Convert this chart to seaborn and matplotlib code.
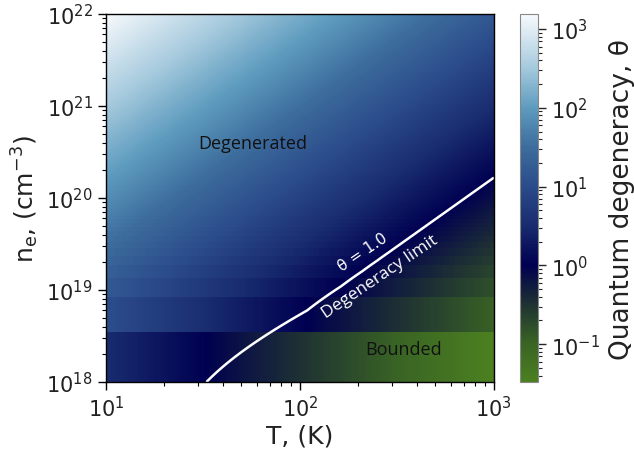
import numpy as np
import matplotlib
matplotlib.use("Agg")
import matplotlib.pyplot as plt
from matplotlib.colors import LogNorm
import seaborn as sns

# ---- data ----
T_range = [10.0, 1000.0]          # K
n_range = [1e18, 1e22]            # cm^-3
n_step = 5e18                     # linear density grid step (visible banding)
T_F_ref = 33.0                    # Fermi temperature (K) at n_ref, from theta=1 line
n_ref = 1e18
theta_level = [1.0]
# colormap anchors: log10(theta) -> colour
cmap_pos = [-1.48, -1.0, -0.5, 0.0, 0.5, 1.0, 1.5, 2.0, 2.5, 3.19]
cmap_col = ["#4b8020", "#3a6424", "#1f3232", "#000050", "#182b6e",
            "#2b4b8b", "#3c6c9c", "#5d9bbe", "#a3c8dc", "#f7fafc"]
region_labels = ["Degenerated", "Bounded"]
region_T = [57, 344]
region_n = [4.0e20, 2.3e18]

sns.set_style("ticks")
plt.rcParams["font.family"] = ["DejaVu Sans"]
plt.rcParams["xtick.direction"] = "out"
plt.rcParams["ytick.direction"] = "out"

T = np.geomspace(T_range[0], T_range[1], 400)
n = np.arange(n_range[0], n_range[1] + n_step / 2, n_step)
TT, NN = np.meshgrid(T, n)
theta = T_F_ref * (NN / n_ref) ** (2.0 / 3.0) / TT

from matplotlib.colors import LinearSegmentedColormap
pos = [(p - cmap_pos[0]) / (cmap_pos[-1] - cmap_pos[0]) for p in cmap_pos]
cmap = LinearSegmentedColormap.from_list("deg", list(zip(pos, cmap_col)))

fig = plt.figure(figsize=(6.34, 4.56), dpi=100)
ax = fig.add_axes([0.167, 0.160, 0.612, 0.807])
cax = fig.add_axes([0.820, 0.160, 0.029, 0.807])

mesh = ax.pcolormesh(T, n, theta, cmap=cmap, shading="nearest",
                     norm=LogNorm(vmin=10 ** cmap_pos[0], vmax=10 ** cmap_pos[-1]),
                     rasterized=True)
ax.contour(T, n, theta, levels=theta_level, colors="white", linewidths=1.8)
ax.set_xscale("log")
ax.set_yscale("log")
ax.set_xlim(T_range)
ax.set_ylim(n_range)
for s in ax.spines.values():
    s.set_color("black")
    s.set_linewidth(1.0)
ax.tick_params(which="major", length=6, width=1, labelsize=15, color="black",
               labelcolor="#222222")
ax.tick_params(which="minor", length=3, width=0.8, color="black")
ax.set_xlabel("T, (K)", fontsize=18, color="#222222", labelpad=2)
ax.set_ylabel(r"n$_{\rm e}$, (cm$^{-3}$)", fontsize=18, color="#222222", labelpad=4)

cb = fig.colorbar(mesh, cax=cax)
cb.outline.set_edgecolor("#888888")
cb.ax.tick_params(which="major", length=6, width=1, labelsize=15, labelcolor="#222222")
cb.ax.tick_params(which="minor", length=3, width=0.8)
cb.set_label("Quantum degeneracy, θ", fontsize=19, color="#222222", labelpad=6)

for lab, tx, ny in zip(region_labels, region_T, region_n):
    ax.text(tx, ny, lab, fontsize=13, family="Open Sans", color="#111111",
            ha="center", va="center")
ax.text(258, 1.42e19, "Degeneracy limit", fontsize=12.5, family="Open Sans",
        color="white", rotation=34, ha="center", va="center")
ax.text(211, 2.6e19, "θ = 1.0", fontsize=11, color="white",
        rotation=34, ha="center", va="center")

fig.savefig("out.png", dpi=100)
